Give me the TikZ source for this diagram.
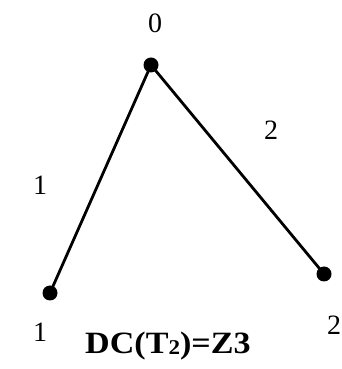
\documentclass[tikz,border=0pt]{standalone}
\usepackage{fontspec}
\setmainfont{Liberation Serif}
\begin{document}
\begin{tikzpicture}[x=1pt,y=1pt,
  vtx/.style={circle,fill=black,inner sep=0pt,minimum size=15pt},
  lbl/.style={inner sep=0pt,font=\fontsize{28}{32}\selectfont},
  edge/.style={line width=2.8pt}]
\useasboundingbox (0,0) rectangle (342,369);
\node[vtx] (v0) at (151,304) {};
\node[vtx] (v1) at (50,76) {};
\node[vtx] (v2) at (324,95) {};
\draw[edge] (v0.center) -- (v1.center);
\draw[edge] (v0.center) -- (v2.center);
\node[lbl] (l0) at (155,346) {0};
\node[lbl] (le1) at (40,184) {1};
\node[lbl] (le2) at (271,239) {2};
\node[lbl] (l1) at (40,37) {1};
\node[lbl] (l2) at (334,44) {2};
\node[inner sep=0pt,anchor=base west,font=\fontsize{31}{36}\selectfont\bfseries] (cap) at (85,16) {\scalebox{1.1}[1]{DC(T\raisebox{-0.1ex}{\fontsize{21}{24}\selectfont 2})=Z3}};
\end{tikzpicture}
\end{document}
